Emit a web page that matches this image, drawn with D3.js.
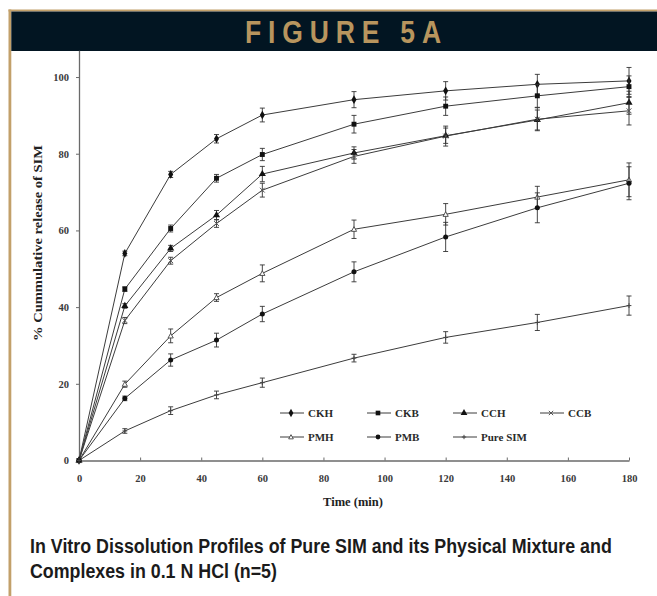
<!DOCTYPE html>
<html>
<head>
<meta charset="utf-8">
<script src="https://cdn.jsdelivr.net/npm/d3@7"></script>
<style>
  html, body { margin: 0; padding: 0; background: #ffffff; }
  svg { display: block; }
</style>
</head>
<body>
<svg id="chart" width="657" height="596"></svg>
<script>
// Sampling times (min)
const times = [0, 15, 30, 45, 60, 90, 120, 150, 180];

// Series labels
const seriesNames = ["CKH", "CKB", "CCH", "CCB", "PMH", "PMB", "Pure SIM"];

// Mean cumulative release (%)
const ckh = [0, 54.0, 74.6, 83.9, 90.1, 94.1, 96.4, 98.1, 99.0];
const ckb = [0, 44.7, 60.5, 73.6, 79.8, 87.7, 92.4, 95.1, 97.5];
const cch = [0, 40.3, 55.3, 64.0, 74.7, 80.2, 84.7, 88.8, 93.3];
const ccb = [0, 36.5, 52.1, 61.8, 70.5, 79.3, 84.6, 89.0, 91.2];
const pmh = [0, 19.9, 32.5, 42.5, 48.8, 60.3, 64.2, 68.7, 73.2];
const pmb = [0, 16.2, 26.2, 31.4, 38.2, 49.2, 58.3, 65.9, 72.3];
const sim = [0, 7.7, 13.0, 17.1, 20.3, 26.7, 32.1, 36.0, 40.4];

// Standard deviations (n=5)
const ckhSD = [0, 0.6, 0.8, 1.1, 1.8, 2.1, 2.4, 2.6, 3.5];
const ckbSD = [0, 0.6, 0.9, 1.0, 1.6, 2.3, 2.4, 3.0, 2.8];
const cchSD = [0, 0.6, 0.8, 1.2, 2.0, 1.6, 2.0, 2.6, 3.0];
const ccbSD = [0, 0.8, 0.9, 1.0, 1.8, 1.8, 2.6, 3.0, 3.7];
const pmhSD = [0, 0.8, 1.8, 1.0, 2.2, 2.4, 2.8, 2.8, 4.4];
const pmbSD = [0, 0.6, 1.6, 1.8, 2.0, 2.6, 3.8, 3.9, 4.3];
const simSD = [0, 0.6, 1.0, 1.0, 1.2, 1.0, 1.5, 2.1, 2.5];

// Axis ticks
const xTicks = [0, 20, 40, 60, 80, 100, 120, 140, 160, 180];
const yTicks = [0, 20, 40, 60, 80, 100];

// Texts
const figureTitle = "FIGURE 5A";
const xTitle = "Time (min)";
const yTitle = "% Cummulative release of SIM";
const captionLines = [
  "In Vitro Dissolution Profiles of Pure SIM and its Physical Mixture and",
  "Complexes in 0.1 N HCl (n=5)"
];

const meanSets = [ckh, ckb, cch, ccb, pmh, pmb, sim];
const sdSets = [ckhSD, ckbSD, cchSD, ccbSD, pmhSD, pmbSD, simSD];
const markerKinds = ["diamond", "square", "triangle", "openx", "opentri", "circle", "plus"];

const series = seriesNames.map((name, i) => ({
  name,
  kind: markerKinds[i],
  points: times.map((t, j) => ({ t, v: meanSets[i][j], sd: sdSets[i][j] }))
}));

const svg = d3.select("#chart");
const TAN = "#c2a06a";
const NAVY = "#021522";
const INK = "#3c3c3c";
const serif = "'Liberation Serif', 'DejaVu Serif', serif";
const narrow = "'Liberation Sans Narrow', 'Arial Narrow', 'Liberation Sans', sans-serif";

// Squeeze a text horizontally so that it spans the given width
function fitWidth(sel, x0, y0, width) {
  const natural = sel.node().getComputedTextLength();
  const k = natural > 0 ? width / natural : 1;
  sel.attr("x", 0).attr("y", 0)
    .attr("transform", `translate(${x0},${y0}) scale(${k},1)`);
}

// Frame: tan rule on top and left, dark title band
svg.append("rect").attr("x", 8.5).attr("y", 9.5).attr("width", 657 - 8.5).attr("height", 2).attr("fill", TAN);
svg.append("rect").attr("x", 8.5).attr("y", 9.5).attr("width", 2.8).attr("height", 596 - 9.5).attr("fill", TAN);
svg.append("rect").attr("x", 11.3).attr("y", 11.5).attr("width", 657 - 11.3).attr("height", 39.5).attr("fill", NAVY);

const titleText = svg.append("text")
  .attr("fill", "#b8955e")
  .attr("font-family", narrow)
  .attr("font-weight", "bold")
  .attr("font-size", 31)
  .attr("letter-spacing", 8)
  .text(figureTitle);
fitWidth(titleText, 245, 43, 203);

// Scales
const x = d3.scaleLinear().domain([0, 180]).range([79, 629]);
const y = d3.scaleLinear().domain([0, 107]).range([460.5, 50.2]);

// Axes
const yAxis = svg.append("g")
  .attr("transform", `translate(${x(0)},0)`)
  .call(d3.axisLeft(y).tickValues(yTicks).tickSizeInner(3).tickSizeOuter(0).tickPadding(7).tickFormat(d3.format("d")));
const xAxis = svg.append("g")
  .attr("transform", `translate(0,${y(0)})`)
  .call(d3.axisBottom(x).tickValues(xTicks).tickSizeInner(-3).tickSizeOuter(0).tickPadding(14).tickFormat(d3.format("d")));

[yAxis, xAxis].forEach(g => {
  g.select(".domain").attr("stroke", "#6a6a6a").attr("stroke-width", 1.3);
  g.selectAll(".tick line").attr("stroke", "#6a6a6a");
  g.selectAll(".tick text")
    .attr("font-family", serif)
    .attr("font-size", 10.5)
    .attr("font-weight", "bold")
    .attr("fill", "#3a3a3a");
});

svg.append("text")
  .attr("x", 353).attr("y", 506)
  .attr("text-anchor", "middle")
  .attr("font-family", serif).attr("font-weight", "bold").attr("font-size", 12.5)
  .attr("fill", "#222")
  .text(xTitle);

svg.append("text")
  .attr("transform", "translate(42,243) rotate(-90)")
  .attr("text-anchor", "middle")
  .attr("font-family", serif).attr("font-weight", "bold").attr("font-size", 12.5)
  .attr("fill", "#222")
  .attr("textLength", 196).attr("lengthAdjust", "spacingAndGlyphs")
  .text(yTitle);

// Marker shapes
function drawMarker(g, kind, scale) {
  const s = scale || 1;
  if (kind === "diamond") {
    g.append("path").attr("d", d3.symbol(d3.symbolDiamond, 22 * s)()).attr("fill", "#111");
  } else if (kind === "square") {
    g.append("path").attr("d", d3.symbol(d3.symbolSquare, 24 * s)()).attr("fill", "#111");
  } else if (kind === "triangle") {
    g.append("path").attr("d", d3.symbol(d3.symbolTriangle, 22 * s)()).attr("fill", "#111");
  } else if (kind === "circle") {
    g.append("path").attr("d", d3.symbol(d3.symbolCircle, 20 * s)()).attr("fill", "#111");
  } else if (kind === "openx") {
    const r = 2.4 * s;
    g.append("path").attr("d", `M${-r},${-r}L${r},${r}M${-r},${r}L${r},${-r}`)
      .attr("stroke", "#555").attr("stroke-width", 1).attr("fill", "none");
  } else if (kind === "opentri") {
    const r = 2.6 * s;
    g.append("path").attr("d", `M0,${-r}L${r},${r * 0.8}L${-r},${r * 0.8}Z`)
      .attr("stroke", "#444").attr("stroke-width", 0.9).attr("fill", "#fff");
  } else if (kind === "plus") {
    const r = 2.4 * s;
    g.append("path").attr("d", `M${-r},0L${r},0M0,${-r}L0,${r}`)
      .attr("stroke", "#444").attr("stroke-width", 1).attr("fill", "none");
  }
}

// Lines, error bars and markers
const line = d3.line().x(d => x(d.t)).y(d => y(d.v));
const plot = svg.append("g");

series.forEach(s => {
  plot.append("path")
    .attr("d", line(s.points))
    .attr("fill", "none")
    .attr("stroke", INK)
    .attr("stroke-width", 1);
});

series.forEach(s => {
  const g = plot.append("g");
  s.points.filter(p => p.sd > 0).forEach(p => {
    const cx = x(p.t), y1 = y(p.v + p.sd), y2 = y(p.v - p.sd);
    g.append("path")
      .attr("d", `M${cx},${y1}V${y2}M${cx - 2.5},${y1}H${cx + 2.5}M${cx - 2.5},${y2}H${cx + 2.5}`)
      .attr("stroke", "#333").attr("stroke-width", 0.9).attr("fill", "none");
  });
  s.points.forEach(p => {
    const m = g.append("g").attr("transform", `translate(${x(p.t)},${y(p.v)})`);
    drawMarker(m, s.kind, 1);
  });
});

// Legend (two rows)
const legendColX = [280, 367, 453, 540];
const legendRowY = [413, 437];
const legend = svg.append("g");
series.forEach((s, i) => {
  const lx = legendColX[i % 4], ly = legendRowY[Math.floor(i / 4)];
  const item = legend.append("g").attr("transform", `translate(${lx},${ly})`);
  item.append("line").attr("x1", 0).attr("x2", 24).attr("y1", 0).attr("y2", 0)
    .attr("stroke", INK).attr("stroke-width", 1);
  drawMarker(item.append("g").attr("transform", "translate(11,0)"), s.kind, 0.9);
  item.append("text")
    .attr("x", 28).attr("y", 0).attr("dy", "0.35em")
    .attr("font-family", serif).attr("font-weight", "bold").attr("font-size", 11)
    .attr("fill", "#2a2a2a")
    .text(s.name);
});

// Caption
const capWidths = [582, 247];
captionLines.forEach((t, i) => {
  const cap = svg.append("text")
    .attr("font-family", narrow)
    .attr("font-weight", "bold")
    .attr("font-size", 21)
    .attr("fill", "#1b1b1b")
    .text(t);
  fitWidth(cap, 30, 553 + i * 25, capWidths[i]);
});
</script>
</body>
</html>
